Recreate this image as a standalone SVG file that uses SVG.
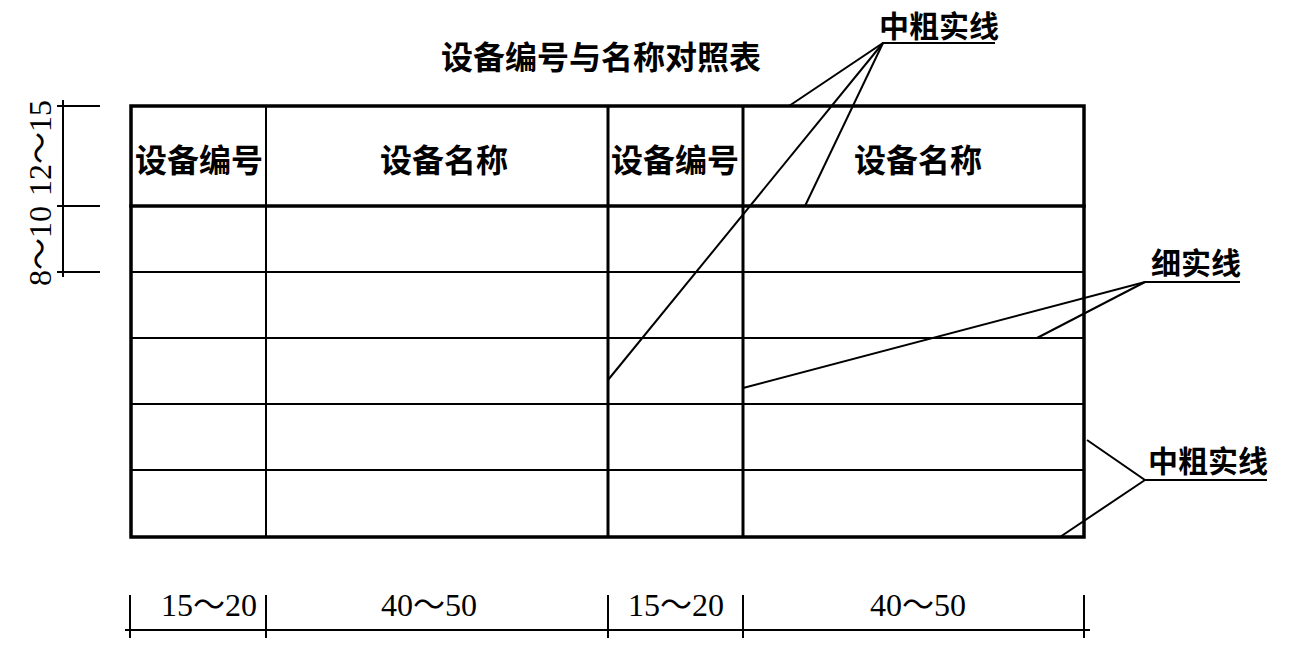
<svg xmlns="http://www.w3.org/2000/svg" width="1290" height="666" viewBox="0 0 1290 666">
<style>
.thick{stroke:#000;stroke-width:3.5;fill:none;stroke-linecap:square}
.mid{stroke:#000;stroke-width:3;fill:none}
.thin{stroke:#000;stroke-width:2;fill:none}
.lead{stroke:#000;stroke-width:2;fill:none}
.cjk{font-family:"Noto Sans CJK SC","Noto Sans",sans-serif;font-weight:bold;font-size:32px;fill:#000}
.lbl{font-size:30px}
.num{font-family:"Liberation Serif","Noto Sans CJK SC",serif;font-size:32px;fill:#000}
</style>
<rect width="1290" height="666" fill="#fff"/>
<text class="cjk" x="601" y="69" text-anchor="middle">设备编号与名称对照表</text>
<g id="table">
<line class="thin" x1="131" y1="272" x2="1084" y2="272"/>
<line class="thin" x1="131" y1="338" x2="1084" y2="338"/>
<line class="thin" x1="131" y1="404" x2="1084" y2="404"/>
<line class="thin" x1="131" y1="470" x2="1084" y2="470"/>
<line class="thin" x1="266" y1="106" x2="266" y2="537"/>
<line class="mid" x1="743" y1="106" x2="743" y2="537"/>
<line class="mid" x1="608" y1="106" x2="608" y2="537"/>
<line class="thick" x1="131" y1="206" x2="1084" y2="206"/>
<rect class="thick" x="131" y="106" width="953" height="431"/>
<text class="cjk" x="199" y="172" text-anchor="middle">设备编号</text>
<text class="cjk" x="444" y="172" text-anchor="middle">设备名称</text>
<text class="cjk" x="675" y="172" text-anchor="middle">设备编号</text>
<text class="cjk" x="918" y="172" text-anchor="middle">设备名称</text>
</g>
<g id="dim-left">
<line class="thin" x1="63" y1="100" x2="63" y2="277"/>
<line class="thin" x1="57" y1="106" x2="100" y2="106"/>
<line class="thin" x1="57" y1="206" x2="100" y2="206"/>
<line class="thin" x1="57" y1="272" x2="100" y2="272"/>
<text class="num" transform="translate(51,148) rotate(-90)" text-anchor="middle">12～15</text>
<text class="num" transform="translate(51,246) rotate(-90)" text-anchor="middle">8～10</text>
</g>
<g id="dim-bottom">
<line class="thin" x1="125" y1="630" x2="1090" y2="630"/>
<line class="thin" x1="130" y1="595" x2="130" y2="638"/>
<line class="thin" x1="266" y1="595" x2="266" y2="638"/>
<line class="thin" x1="608" y1="595" x2="608" y2="638"/>
<line class="thin" x1="743" y1="595" x2="743" y2="638"/>
<line class="thin" x1="1084" y1="595" x2="1084" y2="638"/>
<text class="num" x="209" y="616" text-anchor="middle">15～20</text>
<text class="num" x="429" y="616" text-anchor="middle">40～50</text>
<text class="num" x="676" y="616" text-anchor="middle">15～20</text>
<text class="num" x="918" y="616" text-anchor="middle">40～50</text>
</g>
<g id="label-top">
<text class="cjk lbl" x="939" y="37" text-anchor="middle">中粗实线</text>
</g>
<g id="label-thin">
<text class="cjk lbl" x="1196" y="274" text-anchor="middle">细实线</text>
</g>
<g id="label-right">
<text class="cjk lbl" x="1208" y="472" text-anchor="middle">中粗实线</text>
</g>
<g id="connectors">
<polyline class="lead" points="995,43 883,43 789,106"/>
<line class="lead" x1="883" y1="43" x2="608" y2="380"/>
<line class="lead" x1="883" y1="43" x2="805" y2="206"/>
<polyline class="lead" points="1240,282 1145,282 743,388"/>
<line class="lead" x1="1145" y1="282" x2="1037" y2="338"/>
<polyline class="lead" points="1267,480 1145,480 1087,440"/>
<line class="lead" x1="1145" y1="480" x2="1060" y2="537"/>
</g>
</svg>
